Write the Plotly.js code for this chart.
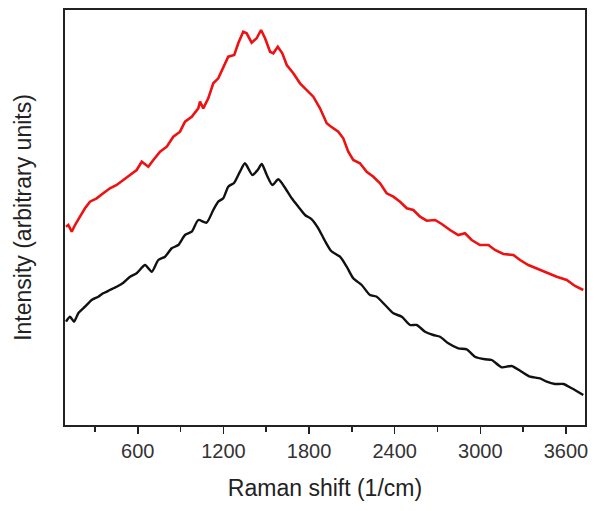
<!DOCTYPE html>
<html>
<head>
<meta charset="utf-8">
<script src="https://cdn.plot.ly/plotly-3.0.1.min.js"></script>
<style>
  html, body { margin: 0; padding: 0; background: #fff; }
  #chart { width: 601px; height: 511px; }
</style>
</head>
<body>
<div id="chart"></div>
<script>
// Raman spectra, two samples (intensity, arbitrary units)
const redShift = [97, 113, 137, 160, 195, 230, 265, 312, 358, 405, 452, 499, 546, 592, 628, 674, 709, 756,
  803, 849, 896, 931, 978, 1024, 1036, 1059, 1094, 1129, 1164, 1199, 1234, 1276, 1304, 1339, 1363,
  1398, 1433, 1464, 1492, 1527, 1550, 1581, 1613, 1644, 1690, 1737, 1784, 1830, 1877, 1924, 1948,
  2005, 2040, 2075, 2110, 2157, 2204, 2251, 2298, 2344, 2391, 2438, 2485, 2531, 2578, 2625, 2683,
  2730, 2788, 2846, 2893, 2940, 2998, 3057, 3103, 3162, 3232, 3279, 3337, 3407, 3466, 3536, 3606,
  3664, 3722];
const redIntensity = [198.3, 200, 193.3, 200, 208.3, 216.7, 223.3, 226.7, 231.7, 236.7, 240, 245, 250, 255,
  263.3, 258.3, 265, 273.3, 278.3, 288.3, 293.3, 303.3, 308.3, 316.7, 323.3, 316.7, 326.7, 341.7,
  346.7, 358.3, 368.3, 370, 381.7, 393.3, 391.7, 382.3, 386.7, 395, 386.7, 373.3, 371.7, 378.3,
  371.7, 360, 351.7, 341.7, 335, 328.3, 316.7, 301.7, 299, 293.3, 286.7, 273.3, 265, 261.7, 253.3,
  248.3, 241.7, 231.7, 228.3, 223.3, 216.7, 215, 208.3, 204.3, 205, 201, 195, 190, 191.7, 185, 180,
  180, 175, 171, 170, 165, 160, 155.7, 152.3, 148.3, 145, 139, 135];

const blackShift = [97, 125, 153, 183, 230, 277, 323, 358, 405, 452, 499, 546, 592, 651, 698, 744, 791, 838,
  884, 931, 978, 1024, 1082, 1129, 1164, 1199, 1234, 1276, 1316, 1351, 1403, 1440, 1469, 1504, 1543,
  1585, 1627, 1679, 1725, 1772, 1819, 1865, 1912, 1955, 2017, 2064, 2110, 2169, 2227, 2274, 2333,
  2391, 2450, 2508, 2555, 2613, 2671, 2718, 2776, 2846, 2905, 2963, 3033, 3080, 3150, 3220, 3290,
  3349, 3419, 3466, 3524, 3582, 3641, 3722];
const blackIntensity = [103.3, 108.3, 103.3, 111.7, 118.3, 125, 128.3, 131.7, 135, 138.3, 142.3, 148.3, 151.7,
  160, 153.3, 165, 168.3, 176.7, 180, 190, 193.3, 205, 202.3, 215, 223.3, 226.7, 238.3, 242.3, 253.3,
  261.7, 250, 255, 261, 250, 240, 245.7, 238.3, 226.7, 218.3, 210, 205.7, 196.7, 184, 174, 168.3,
  158.3, 146.7, 140, 130, 128.3, 120, 111.7, 108.3, 100, 100, 93.3, 90, 88.3, 81.7, 76.7, 75.7,
  68.3, 65.7, 65, 57.7, 59, 53.3, 48.3, 46.7, 43.3, 41, 41, 36.7, 30];

const xTicks = [600, 1200, 1800, 2400, 3000, 3600];

const font = 'Liberation Sans, Arial, sans-serif';

const traces = [
  {
    x: redShift, y: redIntensity,
    mode: 'lines', type: 'scatter',
    line: { color: '#ee1111', width: 2.6 },
    hoverinfo: 'x+y'
  },
  {
    x: blackShift, y: blackIntensity,
    mode: 'lines', type: 'scatter',
    line: { color: '#111111', width: 2.4, shape: 'spline', smoothing: 0.6 },
    hoverinfo: 'x+y'
  }
];

const layout = {
  width: 601,
  height: 511,
  showlegend: false,
  paper_bgcolor: '#fff',
  plot_bgcolor: '#fff',
  margin: { l: 65, r: 16, t: 10, b: 86 },
  font: { family: font, color: '#222' },
  xaxis: {
    range: [90, 3734],
    tickmode: 'array',
    tickvals: xTicks,
    ticks: 'outside',
    ticklen: 7,
    tickwidth: 1.5,
    tickcolor: '#222',
    minor: { dtick: 600, tick0: 300, ticks: 'outside', ticklen: 5, tickwidth: 1.5, tickcolor: '#222', showgrid: false },
    showgrid: false,
    zeroline: false,
    showline: true,
    linecolor: '#222',
    linewidth: 1.8,
    mirror: true,
    tickfont: { size: 20, family: font, color: '#333' },
    title: { text: 'Raman shift (1/cm)', font: { size: 23, family: font, color: '#222' }, standoff: 19 }
  },
  yaxis: {
    range: [0, 415],
    showticklabels: false,
    ticks: '',
    showgrid: false,
    zeroline: false,
    showline: true,
    linecolor: '#222',
    linewidth: 1.8,
    mirror: true,
    title: { text: 'Intensity (arbitrary units)', font: { size: 23, family: font, color: '#222' }, standoff: 25 }
  }
};

Plotly.newPlot('chart', traces, layout, { displayModeBar: false, staticPlot: true });
</script>
</body>
</html>
